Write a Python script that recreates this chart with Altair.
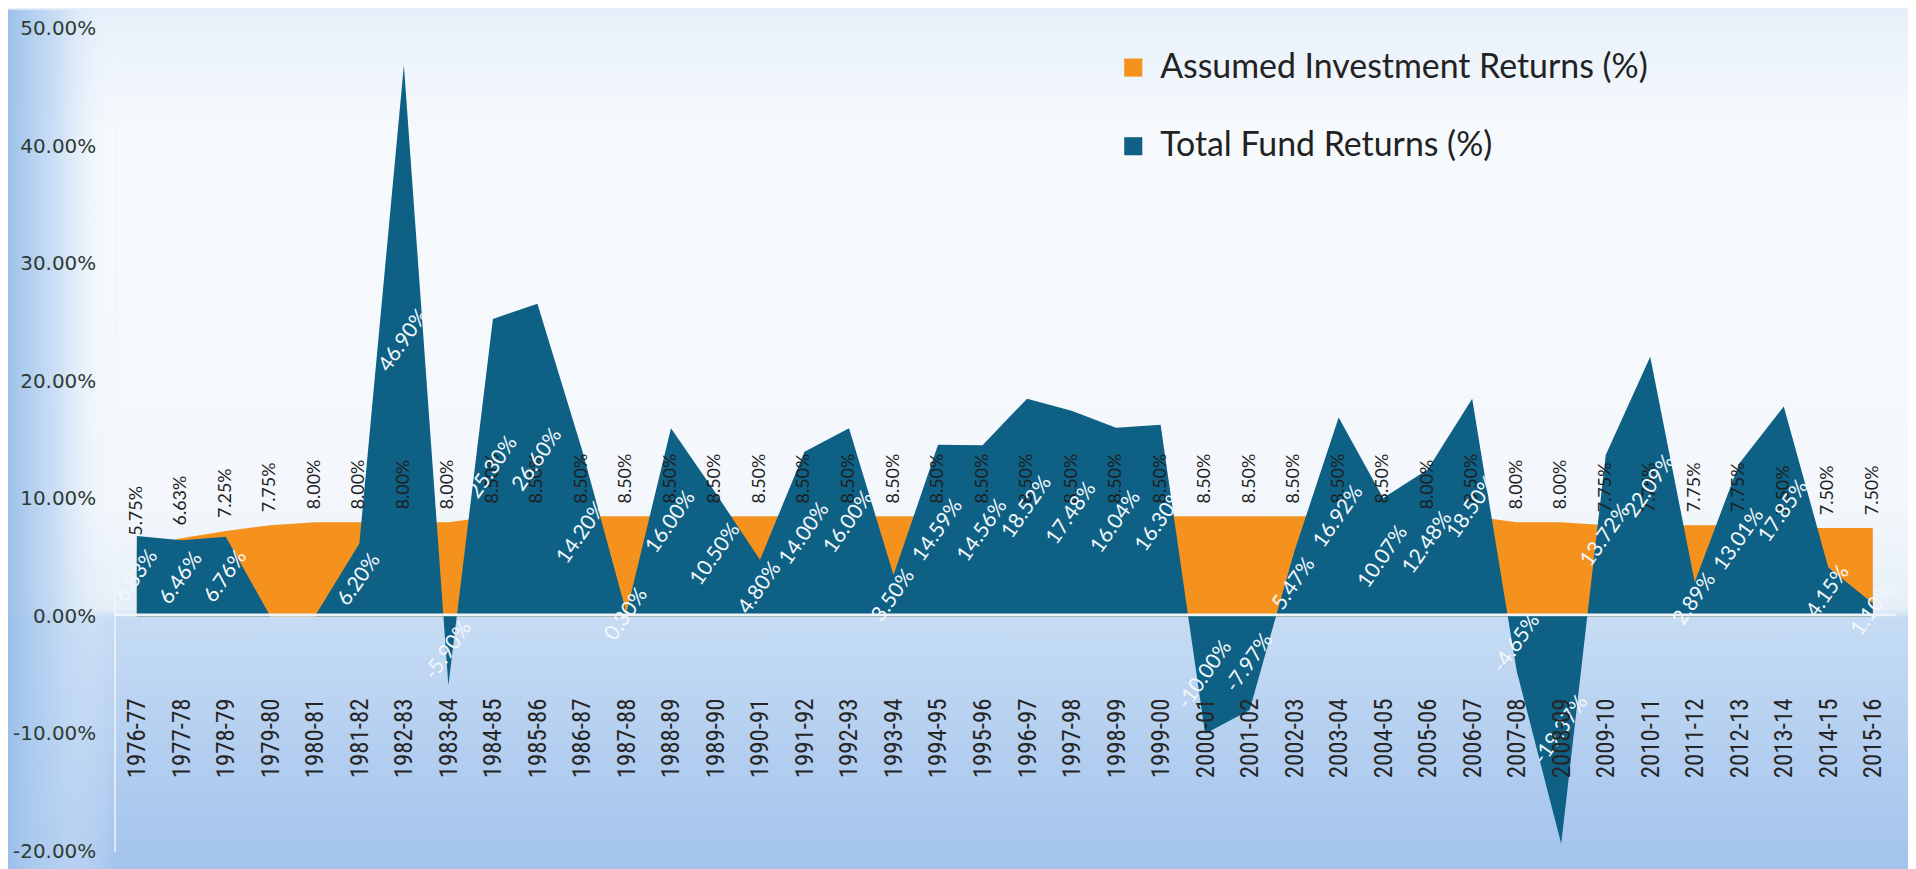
import altair as alt
import pandas as pd

years = ["1976-77", "1977-78", "1978-79", "1979-80", "1980-81", "1981-82", "1982-83", "1983-84",
         "1984-85", "1985-86", "1986-87", "1987-88", "1988-89", "1989-90", "1990-91", "1991-92",
         "1992-93", "1993-94", "1994-95", "1995-96", "1996-97", "1997-98", "1998-99", "1999-00",
         "2000-01", "2001-02", "2002-03", "2003-04", "2004-05", "2005-06", "2006-07", "2007-08",
         "2008-09", "2009-10", "2010-11", "2011-12", "2012-13", "2013-14", "2014-15", "2015-16"]

assumed = [5.75, 6.63, 7.25, 7.75, 8.00, 8.00, 8.00, 8.00,
           8.50, 8.50, 8.50, 8.50, 8.50, 8.50, 8.50, 8.50,
           8.50, 8.50, 8.50, 8.50, 8.50, 8.50, 8.50, 8.50,
           8.50, 8.50, 8.50, 8.50, 8.50, 8.00, 8.50, 8.00,
           8.00, 7.75, 7.75, 7.75, 7.75, 7.50, 7.50, 7.50]

total = [6.83, 6.46, 6.76, 0.00, 0.00, 6.20, 46.90, -5.90,
         25.30, 26.60, 14.20, 0.30, 16.00, 10.50, 4.80, 14.00,
         16.00, 3.50, 14.59, 14.56, 18.52, 17.48, 16.04, 16.30,
         -10.00, -7.97, 5.47, 16.92, 10.07, 12.48, 18.50, -4.65,
         -19.37, 13.72, 22.09, 2.89, 13.01, 17.85, 4.15, 1.10]

series_names = ["Assumed Investment Returns (%)", "Total Fund Returns (%)"]
series_colors = ["#f5921e", "#0e6085"]
y_ticks = [-20, -10, 0, 10, 20, 30, 40, 50]

W, H = 1788, 826

df_a = pd.DataFrame({"year": years, "value": assumed, "series": series_names[0]})
df_t = pd.DataFrame({"year": years, "value": total, "series": series_names[1]})

fmt = "(datum.value < 0 ? '-' : '') + format(abs(datum.value), '.2f') + '%'"

x_enc = alt.X("year:N", sort=years, scale=alt.Scale(type="point", padding=0.5),
              axis=alt.Axis(title=None, labelAngle=270, labelAlign="right", labelBaseline="middle",
                            labelPadding=84, ticks=False, domain=True, domainColor="#eef4fa",
                            domainWidth=2.5, offset=-238, zindex=2,
                            labelFont="Liberation Sans Narrow, Roboto Condensed, DejaVu Sans Condensed, sans-serif",
                            labelFontSize=25, labelColor="#262626", grid=False))
y_scale = alt.Scale(domain=[-20, 50], nice=False, zero=False)
y_enc = alt.Y("value:Q", scale=y_scale, stack=None,
              axis=alt.Axis(title=None, values=y_ticks, labelExpr=fmt, ticks=False, grid=False,
                            domain=True, domainColor="#f0f5fb", domainWidth=1.5, labelPadding=19,
                            labelFont="DejaVu Sans", labelFontSize=20, labelColor="#2f3b33", zindex=2))
color_enc = alt.Color("series:N", scale=alt.Scale(domain=series_names, range=series_colors),
                      legend=alt.Legend(title=None, orient="none", legendX=1006, legendY=22,
                                        symbolType="square", symbolSize=330, symbolStrokeWidth=0,
                                        labelFont="Lato", labelFontSize=34, labelColor="#222222",
                                        rowPadding=45, labelOffset=10, labelLimit=700))

one = pd.DataFrame({"k": [0]})
bg = alt.Chart(one).mark_rect(
    color=alt.LinearGradient(gradient="linear", x1=0, y1=0, x2=0, y2=1, stops=[
        alt.GradientStop(offset=0.0, color="#e7f0fa"),
        alt.GradientStop(offset=0.15, color="#f7fafd"),
        alt.GradientStop(offset=0.55, color="#f4f8fc"),
        alt.GradientStop(offset=0.68, color="#e6eff8"),
        alt.GradientStop(offset=0.69, color="#c6dcf4"),
        alt.GradientStop(offset=0.82, color="#b6d0f0"),
        alt.GradientStop(offset=1.0, color="#a0c1ed")])
).encode(x=alt.value(-107), x2=alt.value(W + 20), y=alt.value(-19), y2=alt.value(H + 40))

bg_left = alt.Chart(one).mark_rect(
    color=alt.LinearGradient(gradient="linear", x1=0, y1=0, x2=1, y2=0, stops=[
        alt.GradientStop(offset=0.0, color="#9cc0ea"),
        alt.GradientStop(offset=0.45, color="rgba(185,212,242,0.7)"),
        alt.GradientStop(offset=1.0, color="rgba(240,245,252,0)")])
).encode(x=alt.value(-107), x2=alt.value(0), y=alt.value(-19), y2=alt.value(H + 40))

area_a = alt.Chart(df_a).mark_area(opacity=1).encode(x=x_enc, y=y_enc, y2=alt.datum(0), color=color_enc)
area_t = alt.Chart(df_t).mark_area(opacity=1).encode(x=x_enc, y=y_enc, y2=alt.datum(0), color=color_enc)

lab_a = alt.Chart(df_a).transform_calculate(label=fmt).mark_text(
    angle=270, align="left", baseline="middle", dx=13, font="Lato", fontSize=18, color="#1e1e1e"
).encode(x=alt.X("year:N", sort=years), y=alt.Y("value:Q", scale=y_scale), text="label:N")

lab_t = alt.Chart(df_t).transform_filter("datum.value != 0").transform_calculate(
    label=fmt, mid="datum.value / 2").mark_text(
    angle=305, align="center", baseline="middle", font="Lato", fontSize=21, color="#f4f8fb"
).encode(x=alt.X("year:N", sort=years), y=alt.Y("mid:Q", scale=y_scale), text="label:N")

chart = alt.layer(bg, bg_left, area_a, area_t, lab_a, lab_t).properties(
    width=W, height=H,
    autosize=alt.AutoSizeParams(type="none"),
    padding={"left": 107, "top": 19, "right": 13, "bottom": 16},
    background="#e4eef9"
).configure_view(stroke=None)

chart.save("out.html", embed_options={"renderer": "svg", "actions": False})
